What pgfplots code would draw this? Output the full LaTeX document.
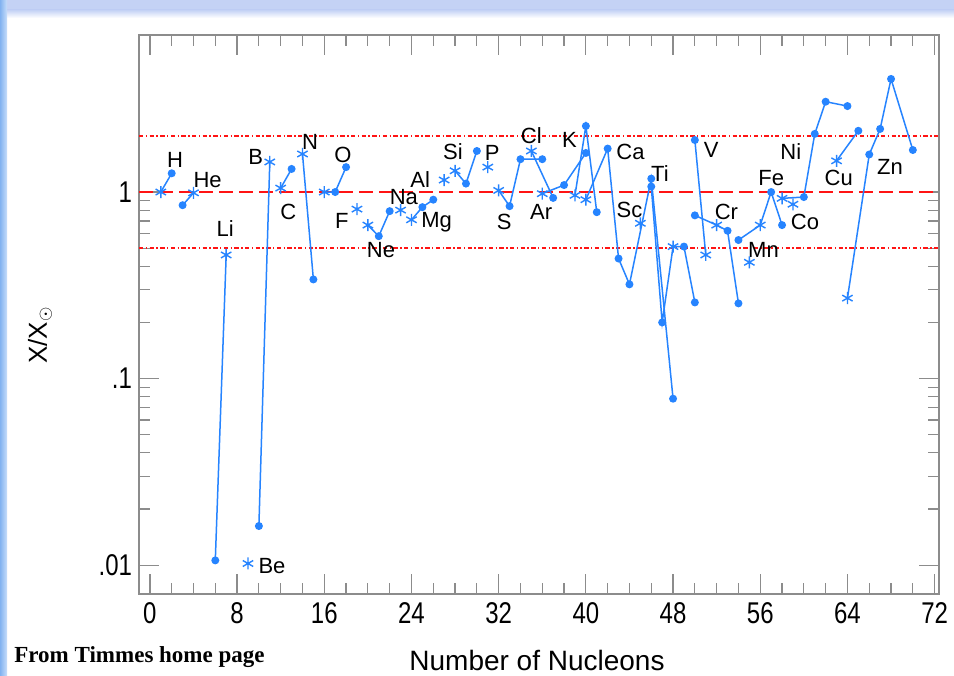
\documentclass[border=0pt]{standalone}
\usepackage{pgfplots}
\pgfplotsset{compat=1.18}
\usepackage{fontspec}
\setmainfont{Liberation Sans}
\newfontfamily\tickfont[FakeStretch=0.8]{Liberation Sans}
\newfontfamily\timesfont{Liberation Serif}
\definecolor{isoblue}{RGB}{38,132,255}
\definecolor{framegray}{RGB}{140,140,140}
\definecolor{refred}{RGB}{255,20,20}
\definecolor{bandblue}{RGB}{196,210,245}
\definecolor{edgeblue}{RGB}{130,178,240}
\definecolor{edgelight}{RGB}{200,222,250}
\pgfplotsset{
  iso/.style={isoblue, line width=0.75bp, scatter, point meta=explicit symbolic,
    scatter/classes={
      s={mark=asterisk, mark size=3bp, isoblue, line width=0.7bp},
      d={mark=*, mark size=1.6bp, isoblue}}},
}
\tikzset{lbl/.style={font=\fontsize{11bp}{11bp}\selectfont, inner sep=0pt}}
\begin{document}
\begin{tikzpicture}
\useasboundingbox (0,0) rectangle (477bp,338bp);
\fill[white] (0,0) rectangle (477bp,338bp);
\fill[bandblue] (0,333bp) rectangle (477bp,338bp);
\shade[top color=bandblue, bottom color=white] (0,329bp) rectangle (477bp,333bp);
\shade[left color=edgeblue, right color=edgelight] (0,0) rectangle (3.5bp,338bp);
\begin{axis}[
  at={(69.5bp,41bp)}, anchor=south west,
  width=400bp, height=279.5bp, scale only axis,
  xmin=-1, xmax=72.4, ymode=log, ymin=0.0070, ymax=6.95,
  xtick={0,8,...,72}, minor x tick num=3,
  ytick={0.01,0.1,1}, yticklabels={.01,.1,1},
  tick align=inside, major tick length=10bp, minor tick length=5.5bp,
  axis line style={framegray, line width=0.7bp},
  every tick/.style={framegray, line width=0.6bp},
  /pgf/number format/assume math mode=true,
  tick label style={font=\tickfont\fontsize{15bp}{15bp}\selectfont},
  xticklabel style={yshift=-1bp},
]
% reference lines
\addplot[refred, line width=1.2bp, dash pattern=on 7bp off 3bp] coordinates {(-1,1) (72.4,1)};
\addplot[refred, line width=0.9bp, dash pattern=on 2.2bp off 1.2bp on 0.7bp off 1.2bp] coordinates {(-1,2) (72.4,2)};
\addplot[refred, line width=0.9bp, dash pattern=on 2.2bp off 1.2bp on 0.7bp off 1.2bp] coordinates {(-1,0.5) (72.4,0.5)};
% isotopes (s = dominant isotope, d = other)
\addplot[iso] table[meta=c] {
x y c
1 1.00 s
2 1.26 d
};
\addplot[iso] table[meta=c] {
x y c
3 0.85 d
4 0.99 s
};
\addplot[iso] table[meta=c] {
x y c
6 0.0106 d
7 0.46 s
};
\addplot[iso] table[meta=c] {
x y c
9 0.0102 s
};
\addplot[iso] table[meta=c] {
x y c
10 0.0162 d
11 1.45 s
};
\addplot[iso] table[meta=c] {
x y c
12 1.05 s
13 1.33 d
};
\addplot[iso] table[meta=c] {
x y c
14 1.60 s
15 0.34 d
};
\addplot[iso] table[meta=c] {
x y c
16 1.00 s
17 1.00 d
18 1.36 d
};
\addplot[iso] table[meta=c] {
x y c
19 0.81 s
};
\addplot[iso] table[meta=c] {
x y c
20 0.665 s
21 0.58 d
22 0.79 d
};
\addplot[iso] table[meta=c] {
x y c
23 0.80 s
};
\addplot[iso] table[meta=c] {
x y c
24 0.71 s
25 0.83 d
26 0.91 d
};
\addplot[iso] table[meta=c] {
x y c
27 1.16 s
};
\addplot[iso] table[meta=c] {
x y c
28 1.30 s
29 1.11 d
30 1.66 d
};
\addplot[iso] table[meta=c] {
x y c
31 1.36 s
};
\addplot[iso] table[meta=c] {
x y c
32 1.02 s
33 0.84 d
34 1.50 d
36 1.50 d
};
\addplot[iso] table[meta=c] {
x y c
35 1.66 s
37 0.93 d
};
\addplot[iso] table[meta=c] {
x y c
36 0.98 s
38 1.09 d
40 1.62 d
};
\addplot[iso] table[meta=c] {
x y c
39 0.96 s
40 2.26 d
41 0.78 d
};
\addplot[iso] table[meta=c] {
x y c
40 0.91 s
42 1.71 d
43 0.44 d
44 0.32 d
46 1.18 d
48 0.078 d
};
\addplot[iso] table[meta=c] {
x y c
45 0.68 s
};
\addplot[iso] table[meta=c] {
x y c
46 1.07 d
47 0.20 d
48 0.51 s
49 0.51 d
50 0.256 d
};
\addplot[iso] table[meta=c] {
x y c
50 1.90 d
51 0.46 s
};
\addplot[iso] table[meta=c] {
x y c
50 0.75 d
52 0.665 s
53 0.62 d
54 0.253 d
};
\addplot[iso] table[meta=c] {
x y c
55 0.42 s
};
\addplot[iso] table[meta=c] {
x y c
54 0.553 d
56 0.665 s
57 1.00 d
58 0.665 d
};
\addplot[iso] table[meta=c] {
x y c
59 0.86 s
};
\addplot[iso] table[meta=c] {
x y c
58 0.925 s
60 0.94 d
61 2.05 d
62 3.05 d
64 2.89 d
};
\addplot[iso] table[meta=c] {
x y c
63 1.47 s
65 2.13 d
};
\addplot[iso] table[meta=c] {
x y c
64 0.27 s
66 1.59 d
67 2.18 d
68 4.04 d
70 1.68 d
};
% element labels
\node[lbl] at (axis cs:2.3,1.48) {H};
\node[lbl] at (axis cs:5.3,1.16) {He};
\node[lbl] at (axis cs:6.9,0.64) {Li};
\node[lbl] at (axis cs:11.2,0.0099) {Be};
\node[lbl] at (axis cs:9.7,1.54) {B};
\node[lbl] at (axis cs:12.7,0.78) {C};
\node[lbl] at (axis cs:14.7,1.85) {N};
\node[lbl] at (axis cs:17.7,1.58) {O};
\node[lbl] at (axis cs:17.6,0.70) {F};
\node[lbl] at (axis cs:21.2,0.49) {Ne};
\node[lbl] at (axis cs:23.3,0.94) {Na};
\node[lbl] at (axis cs:26.3,0.69) {Mg};
\node[lbl] at (axis cs:24.8,1.16) {Al};
\node[lbl] at (axis cs:27.8,1.64) {Si};
\node[lbl] at (axis cs:31.4,1.62) {P};
\node[lbl] at (axis cs:32.5,0.69) {S};
\node[lbl] at (axis cs:35.0,2.0) {Cl};
\node[lbl] at (axis cs:35.9,0.78) {Ar};
\node[lbl] at (axis cs:38.5,1.9) {K};
\node[lbl] at (axis cs:44.1,1.64) {Ca};
\node[lbl] at (axis cs:44.0,0.80) {Sc};
\node[lbl] at (axis cs:46.8,1.25) {Ti};
\node[lbl] at (axis cs:51.5,1.68) {V};
\node[lbl] at (axis cs:52.9,0.78) {Cr};
\node[lbl] at (axis cs:56.3,0.49) {Mn};
\node[lbl] at (axis cs:57.0,1.19) {Fe};
\node[lbl] at (axis cs:60.1,0.69) {Co};
\node[lbl] at (axis cs:58.8,1.64) {Ni};
\node[lbl] at (axis cs:63.2,1.19) {Cu};
\node[lbl] at (axis cs:67.9,1.36) {Zn};
\end{axis}
\node[font=\fontsize{14bp}{14bp}\selectfont] at (268.5bp,8bp) {Number of Nucleons};
\node[font=\fontsize{13bp}{13bp}\selectfont, rotate=90] at (20bp,170.5bp) {X/X$_\odot$};
\node[font=\timesfont\bfseries\fontsize{11.5bp}{11.5bp}\selectfont, anchor=base west, inner sep=0pt] at (7bp,7bp) {From Timmes home page};
\end{tikzpicture}
\end{document}
